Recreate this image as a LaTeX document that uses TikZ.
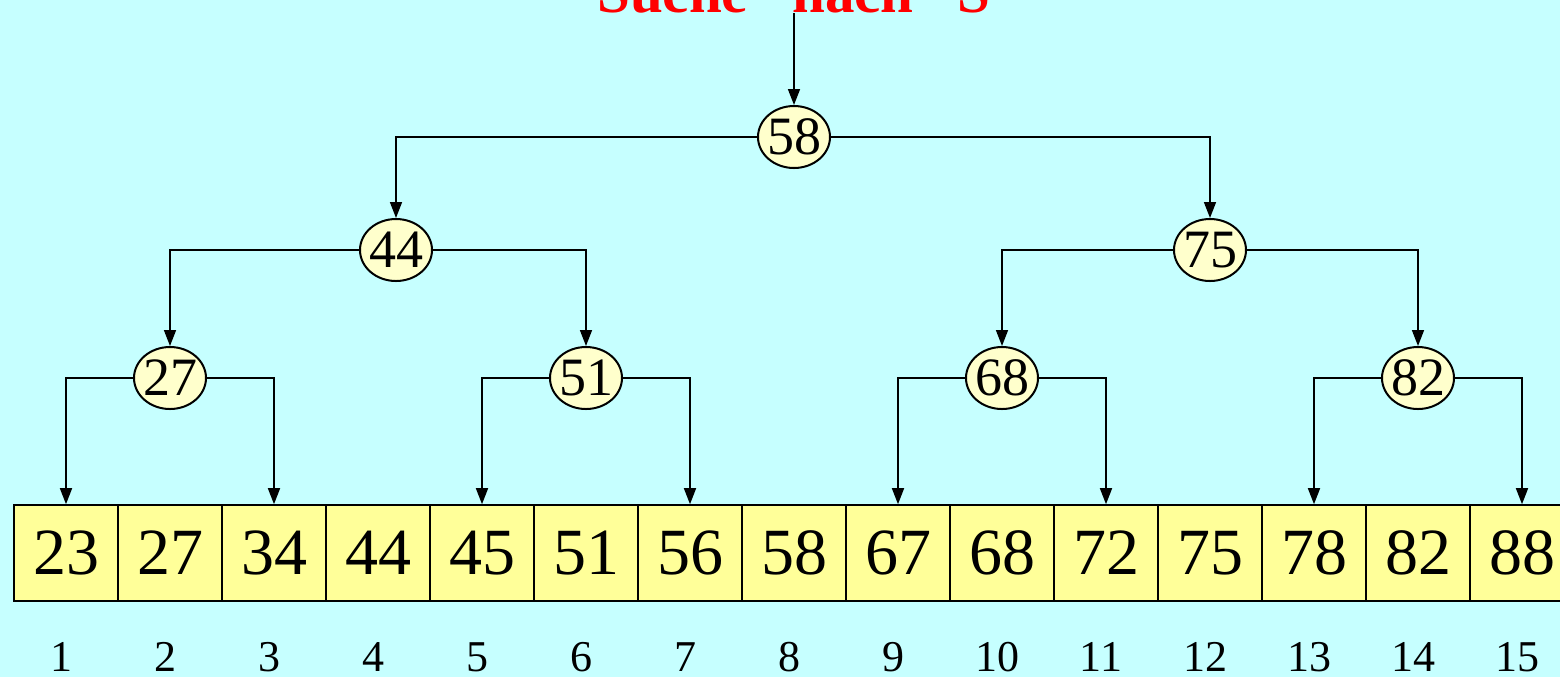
\documentclass[tikz,border=0pt]{standalone}
\usepackage{fontspec}
\setmainfont{Liberation Serif}
\usetikzlibrary{arrows.meta,shapes.geometric}
\definecolor{bgc}{RGB}{198,255,255}
\definecolor{cellc}{RGB}{255,255,153}
\definecolor{nodec}{RGB}{255,255,204}
\definecolor{titlec}{RGB}{255,0,0}
\tikzset{
  tnode/.style={ellipse, draw=black, line width=1pt, fill=nodec, minimum width=36pt, minimum height=31pt, inner xsep=-2.5pt, inner ysep=-1pt, font=\fontsize{27}{27}\selectfont},
  cellbox/.style={rectangle, draw=black, line width=0.8pt, fill=cellc, minimum width=52pt, minimum height=48pt, inner sep=0pt, font=\fontsize{33}{33}\selectfont},
  idx/.style={anchor=base, inner sep=0pt, font=\fontsize{22}{22}\selectfont},
  arr/.style={draw=black, line width=0.8pt, -{Triangle[width=6pt,length=8pt]}}
}
\begin{document}
\begin{tikzpicture}[x=0.5pt,y=-0.5pt]
\useasboundingbox (0,0) rectangle (1560,677);
\fill[bgc] (0,0) rectangle (1560,677);
\node[anchor=base, inner sep=0pt, text=titlec, font=\fontsize{29.5}{29.5}\selectfont\bfseries] (title) at (794,12) {Suche ``nach'' S};
% array cells
\foreach \v [count=\i] in {23,27,34,44,45,51,56,58,67,68,72,75,78,82,88} {
  \node[cellbox] (c\i) at ({66+104*(\i-1)},553) {\v};
  \node[idx] (i\i) at ({61+104*(\i-1)},671) {\i};
}
% tree nodes
\node[tnode] (n58) at (794,137) {58};
\node[tnode] (n44) at (396,250) {44};
\node[tnode] (n75) at (1210,250) {75};
\node[tnode] (n27) at (170,378) {27};
\node[tnode] (n51) at (586,378) {51};
\node[tnode] (n68) at (1002,378) {68};
\node[tnode] (n82) at (1418,378) {82};
% connectors
\draw[arr] (title.south) -- (n58.north);
\draw[arr] (n58.west) -| (n44.north);
\draw[arr] (n58.east) -| (n75.north);
\draw[arr] (n44.west) -| (n27.north);
\draw[arr] (n44.east) -| (n51.north);
\draw[arr] (n75.west) -| (n68.north);
\draw[arr] (n75.east) -| (n82.north);
\draw[arr] (n27.west) -| (c1.north);
\draw[arr] (n27.east) -| (c3.north);
\draw[arr] (n51.west) -| (c5.north);
\draw[arr] (n51.east) -| (c7.north);
\draw[arr] (n68.west) -| (c9.north);
\draw[arr] (n68.east) -| (c11.north);
\draw[arr] (n82.west) -| (c13.north);
\draw[arr] (n82.east) -| (c15.north);
\end{tikzpicture}
\end{document}
